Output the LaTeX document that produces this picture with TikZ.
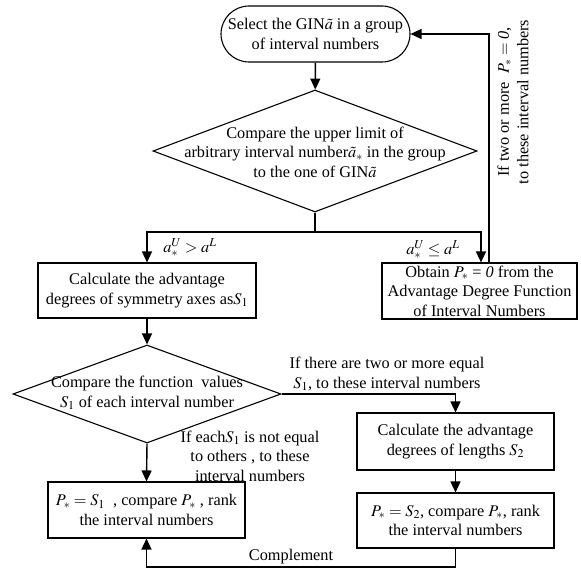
\documentclass[tikz,border=0pt]{standalone}
\usepackage{mathptmx}
\usepackage{fontspec}
\setmainfont{Liberation Serif}
\usetikzlibrary{shapes.geometric,arrows.meta}
\begin{document}
\begin{tikzpicture}[x=1pt,y=-1pt,
  font=\fontsize{16.3}{19.5}\selectfont,
  every node/.style={inner sep=0pt},
  procbox/.style={draw, line width=1.1pt, rectangle, align=center},
  startbox/.style={draw, line width=1.1pt, rectangle, rounded corners=28pt, align=center, minimum width=189pt, minimum height=56pt},
  decision/.style={draw, line width=1.1pt, diamond},
  ln/.style={line width=1.4pt},
  arr/.style={line width=1.4pt, -{Triangle[length=11pt,width=10pt]}}]
\fill[white] (0,0) rectangle (581,572);
\useasboundingbox (0,0) rectangle (581,572);

% nodes
\node[startbox] (sel) at (315.5,34) {Select the GIN$\tilde{a}$ in a group\\of interval numbers};
\node[decision, minimum width=324pt, minimum height=122pt] (cmp1) at (315,151) {};
\node[align=center] (cmp1t) at (315,152) {Compare the upper limit of\\arbitrary interval number$\tilde{a}_*$ in the group\\to the one of GIN$\tilde{a}$};
\node[procbox, minimum width=218pt, minimum height=55pt] (sym) at (147,290.5) {Calculate the advantage\\degrees of symmetry axes as$S_1$};
\node[procbox, minimum width=195pt, minimum height=56pt] (zero) at (479.5,291) {Obtain $P_*$ = \textit{0} from the\\Advantage Degree Function\\of Interval Numbers};
\node[decision, minimum width=268pt, minimum height=98pt] (cmp2) at (147,394) {};
\node[align=center] (cmp2t) at (147,393) {Compare the function\ \ values\\$S_1$ of each interval number};
\node[procbox, minimum width=197pt, minimum height=57pt] (len) at (455.5,441.5) {Calculate the advantage\\degrees of lengths $S_2$};
\node[procbox, minimum width=197pt, minimum height=55pt] (rank2) at (455.5,520.5) {$P_* = S_2$, compare $P_*$, rank\\the interval numbers};
\node[procbox, minimum width=197pt, minimum height=56pt] (rank1) at (146.5,510) {$P_* = S_1$\ \ , compare $P_*$ , rank\\the interval numbers};

% labels
\node (lgt) at (190,248) {$a_*^{U} > a^{L}$};
\node (lle) at (433,250) {$a_*^{U} \le a^{L}$};
\node[align=center] (leq) at (387,374) {If there are two or more equal\\$S_1$, to these interval numbers};
\node[align=center] (lneq) at (250,456) {If each$S_1$ is not equal\\to others , to these\\interval numbers};
\node[align=center, rotate=90] (lfb) at (513,102) {If two or more \ $P_* = \textit{0}$,\\to these interval numbers};
\node (lcomp) at (291,557) {Complement};

% connectors
\draw[arr] (sel) -- (cmp1);
\coordinate (split) at (315,232);
\draw[ln] (cmp1.south) -- (split);
\draw[arr] (split) -| (sym.north);
\draw[arr] (split) -| ([xshift=1.5pt]zero.north);
\draw[arr] ([xshift=9.5pt]zero.north) |- (sel.east);
\draw[arr] (sym) -- (cmp2);
\draw[arr] (cmp2.east) -| (len.north);
\draw[arr] (cmp2.south) -- (rank1.north);
\draw[arr] (len) -- (rank2);
\coordinate (bot) at (455.5,567);
\draw[arr] (rank2.south) -- (bot) -| (rank1.south);
\end{tikzpicture}
\end{document}
